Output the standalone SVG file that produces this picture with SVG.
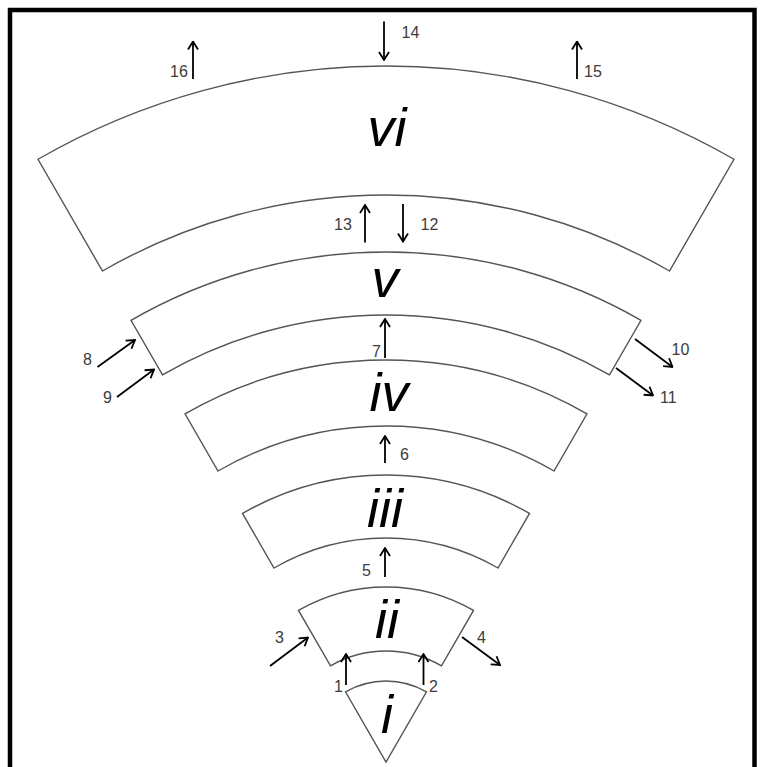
<svg xmlns="http://www.w3.org/2000/svg" width="762" height="767" viewBox="0 0 762 767">
<style>
.sec{fill:#fff;stroke:#555;stroke-width:1.4;stroke-linejoin:miter}
.rn{font-family:"Liberation Sans",Arial,sans-serif;font-style:italic;font-size:54px;fill:#000;text-anchor:middle}
.num{font-family:"Liberation Sans",Arial,sans-serif;font-size:16px;fill:#3c3c3c}
.arr{stroke:#000;stroke-width:1.8;fill:none;marker-end:url(#ah)}
</style>
<defs>
<marker id="ah" viewBox="0 0 10 12" refX="9" refY="6" markerWidth="10" markerHeight="12" markerUnits="userSpaceOnUse" orient="auto">
<path d="M1,1 L9,6 L1,11" fill="none" stroke="#000" stroke-width="1.8"/>
</marker>
</defs>
<rect x="0" y="0" width="762" height="767" fill="#fff"/>
<rect x="10" y="10" width="744.5" height="800" fill="none" stroke="#000" stroke-width="4.5"/>

<g id="sector-i">
<path class="sec" d="M345.5,691.85 A81,81 0 0 1 426.5,691.85 L386,762 Z"/>
<text class="rn" x="387" y="733">i</text>
</g>
<g id="sector-ii">
<path class="sec" d="M298.5,610.45 A175,175 0 0 1 473.5,610.45 L441.5,665.87 A111,111 0 0 0 330.5,665.87 Z"/>
<text class="rn" x="387" y="638">ii</text>
</g>
<g id="sector-iii">
<path class="sec" d="M242.5,513.46 A287,287 0 0 1 529.5,513.46 L498,568 A224,224 0 0 0 274,568 Z"/>
<text class="rn" x="385" y="527">iii</text>
</g>
<g id="sector-iv">
<path class="sec" d="M185,413.87 A402,402 0 0 1 587,413.87 L554,471 A336,336 0 0 0 218,471 Z"/>
<text class="rn" x="389" y="411">iv</text>
</g>
<g id="sector-v">
<path class="sec" d="M131,320.34 A510,510 0 0 1 641,320.34 L609.5,374.9 A447,447 0 0 0 162.5,374.9 Z"/>
<text class="rn" x="385" y="297">v</text>
</g>
<g id="sector-vi">
<path class="sec" d="M38,159.26 A696,696 0 0 1 734,159.26 L669.5,271 A567,567 0 0 0 102.5,271 Z"/>
<text class="rn" x="387" y="145.5">vi</text>
</g>

<g id="connectors">
<line class="arr" x1="346" y1="685" x2="346" y2="654"/>
<line class="arr" x1="423.5" y1="685" x2="423.5" y2="654"/>
<line class="arr" x1="270" y1="666" x2="308" y2="637.5"/>
<line class="arr" x1="462" y1="637" x2="500" y2="665"/>
<line class="arr" x1="385" y1="577" x2="385" y2="548"/>
<line class="arr" x1="385" y1="463" x2="385" y2="436"/>
<line class="arr" x1="385" y1="358" x2="385" y2="319"/>
<line class="arr" x1="97.5" y1="367" x2="135" y2="340"/>
<line class="arr" x1="117" y1="397" x2="154" y2="369.5"/>
<line class="arr" x1="635" y1="339" x2="672.5" y2="367"/>
<line class="arr" x1="616" y1="368" x2="653" y2="395.5"/>
<line class="arr" x1="403" y1="204" x2="403" y2="241.5"/>
<line class="arr" x1="365" y1="242.5" x2="365" y2="205"/>
<line class="arr" x1="384" y1="21.5" x2="384" y2="60"/>
<line class="arr" x1="577" y1="79" x2="577" y2="41.5"/>
<line class="arr" x1="193" y1="79" x2="193" y2="41.5"/>
</g>

<g id="labels">
<text class="num" x="334" y="691.5">1</text>
<text class="num" x="429" y="691.5">2</text>
<text class="num" x="275" y="643">3</text>
<text class="num" x="477" y="643">4</text>
<text class="num" x="362" y="576">5</text>
<text class="num" x="400" y="460">6</text>
<text class="num" x="372" y="357">7</text>
<text class="num" x="83" y="365">8</text>
<text class="num" x="103" y="402.5">9</text>
<text class="num" x="671.5" y="355">10</text>
<text class="num" x="660" y="403">11</text>
<text class="num" x="420.5" y="230">12</text>
<text class="num" x="334" y="230">13</text>
<text class="num" x="401.5" y="37.5">14</text>
<text class="num" x="584" y="76.5">15</text>
<text class="num" x="170" y="76.5">16</text>
</g>
</svg>
